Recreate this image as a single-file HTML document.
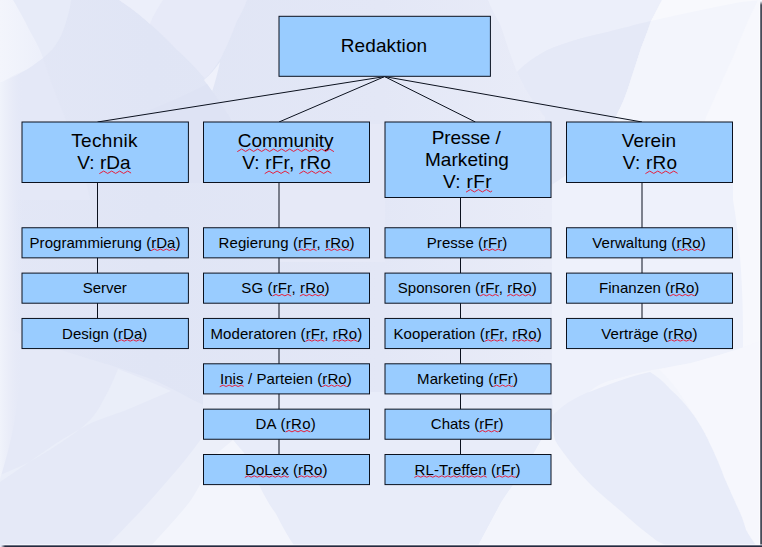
<!DOCTYPE html>
<html><head><meta charset="utf-8"><title>Organigramm</title>
<style>
html,body{margin:0;padding:0;}
body{width:762px;height:547px;overflow:hidden;position:relative;background:#e7ebf8;font-family:"Liberation Sans",sans-serif;color:#000;}
svg{position:absolute;left:0;top:0;width:762px;height:547px;}
.t{position:absolute;display:flex;flex-direction:column;justify-content:center;align-items:center;text-align:center;white-space:nowrap;}
.h{font-size:19px;line-height:22px;}
.r{font-size:15px;line-height:17px;}
u{text-decoration:none;}
#er{position:absolute;left:759px;top:0;width:3px;height:547px;background:linear-gradient(90deg,rgba(255,255,255,.5) 0,rgba(255,255,255,.5) 1px,#6c707c 1px,#6c707c 2px,#474b58 2px);-webkit-mask-image:linear-gradient(180deg,transparent 0,transparent 1px,#000 5px);mask-image:linear-gradient(180deg,transparent 0,transparent 1px,#000 5px);}
#eb{position:absolute;left:0;top:544px;width:762px;height:3px;background:linear-gradient(180deg,rgba(255,255,255,.5) 0,rgba(255,255,255,.5) 1px,#6a6f82 1px,#6a6f82 2px,#262b3e 2px);-webkit-mask-image:linear-gradient(90deg,transparent 0,transparent 1px,#000 5px);mask-image:linear-gradient(90deg,transparent 0,transparent 1px,#000 5px);}
</style></head><body>
<svg id="bg" viewBox="0 0 762 547"><defs>
<linearGradient id="gb" x1="0" y1="0" x2="762" y2="0" gradientUnits="userSpaceOnUse">
<stop offset="0" stop-color="#e3e7f6"/><stop offset=".2" stop-color="#e0e5f5"/><stop offset=".5" stop-color="#e3e7f6"/><stop offset=".72" stop-color="#e9ecf8"/><stop offset="1" stop-color="#eceff9"/>
</linearGradient>
<linearGradient id="gl" x1="0" y1="0" x2="45" y2="0" gradientUnits="userSpaceOnUse">
<stop offset="0" stop-color="#f3f5fc"/><stop offset="1" stop-color="#ecEFfa"/>
</linearGradient>
<linearGradient id="gs" x1="0" y1="0" x2="24" y2="0" gradientUnits="userSpaceOnUse"><stop offset="0" stop-color="#f0f3fb"/><stop offset=".5" stop-color="#e9ecf8" stop-opacity=".8"/><stop offset="1" stop-color="#e4e8f7" stop-opacity="0"/></linearGradient>
</defs>
<rect x="0" y="0" width="762" height="547" fill="url(#gb)"/>
<!-- left-of-continuation zone (slightly lighter) -->
<path d="M0,0 L13,0 C28,28 40,45 43,58 C50,80 58,100 66,120 C75,145 85,170 90,200 L0,200 Z" fill="#e4e8f7"/>
<!-- top-left band + leaf -->
<path d="M0,0 L71,0 C70,9 68,16 66,22 C64,29 62,34 59,39.5 C55,47 50,53 43,58 C35,64 28,69 22,72 C14,77 7,80 0,83 Z" fill="#e7ebf8"/>
<path d="M0,0 L13,0 C20,12 25,21 28.5,28.5 C35,40 40,49 43,58 C35,64 28,69 22,72 C14,77 7,80 0,83 Z" fill="url(#gl)"/>
<!-- top band between curve A and B -->
<path d="M119,0 L247,0 C244,8 241,14 237,21 C232,34 227,46 221,58 C216,66 211,73 205,79 C197,69 188,60 177,50 C168,41 160,32 150,24 C140,15 130,7 119,0 Z" fill="#e7eaf8"/>
<path d="M119,0 L163,0 C158,8 153,15 150,24 C140,15 130,7 119,0 Z" fill="#ecEFfa"/>
<path d="M220,62 C215,69 210,75 204,80 C207,84 210,88 212,92 C215,82 218,72 220,62 Z" fill="#eff1fb"/>
<path d="M207,84 C195,90 175,100 150,110 C140,114 130,117 125,118 L125,124 L189,124 L189,183 L203,183 L203,124 L234,124 L230,117.5 C222,105 215,95 207,84 Z" fill="#dee3f4"/>
<path d="M230,117.5 C240,131 250,144 262,160 C266,166 272,175 276,185 C278,196 279,212 279,229 L279,262 L385,262 L385,124 L236,124 Z" fill="#e6e9f7"/>
<!-- below crossing: lighter band left of lower B -->
<!-- upper zone right of Redaktion, above gentle curve -->
<path d="M488,0 L662,0 L651,21 C637,24 620,29 603,33 C588,36 570,41 552,48 C540,53 527,62 517,72 C510,55 505,38 500,24 C496,17 492,10 488,0 Z" fill="#ecEFfa"/>
<!-- zone below gentle curve -->
<path d="M517,72 C527,62 540,53 552,48 C570,41 588,36 603,33 C620,29 637,24 651,21 C648,30 644,40 641,48 C637,60 634,70 631,79 C626,95 622,105 617,114 C612,125 606,135 598,143 C584,160 570,174 553,184 L545,184 L545,117 C537,107 530,97 524,86 Z" fill="#e5e9f7"/>
<!-- right light zone -->
<path d="M662,0 L651,21 C648,30 644,40 641,48 C637,60 634,70 631,79 C626,95 622,105 617,114 C612,125 606,135 598,143 C584,160 570,174 553,184 C552,190 552,210 552,230 L552,400 C552,405 552,410 553,416 C560,408 570,402 580,398 C590,392 600,386 608,381 C625,376 640,372 654,369.5 C668,367 680,365 691,363 C705,359 720,355 732,351 C745,347 755,343 762,340 L762,0 Z" fill="#eef1fb"/>
<!-- right bright (right of S-curve, top) -->
<path d="M662,0 L651,21 C648,30 644,40 641,48 C637,60 634,70 631,79 C626,95 622,105 617,114 L617,122 L762,122 L762,0 Z" fill="#f3f5fc"/>
<path d="M662,0 L651,21 C680,14 710,8 741,2 L762,0 Z" fill="#f8f9fd"/>
<!-- far right streak -->
<path d="M762,0 L758,0 C754,8 751,14 748,21 C743,33 738,44 734,55 C729,66 724,76 720,86 C715,97 710,108 706,117 C704,125 703,130 703,135 L733,135 L733,200 C740,240 743,290 743,330 L743,547 L762,547 Z" fill="#f7f8fd"/>
<!-- bottom-right bright zone (below big curve) -->
<path d="M762,340 C755,343 745,347 732,351 C720,355 705,359 691,363 C680,365 668,367 654,369.5 C640,372 625,376 608,381 C597,385 587,392 577,404 C567,410 560,414 553,420 C545,432 538,445 532,456 C522,472 511,487 501,502 C493,517 485,532 477,547 L762,547 Z" fill="#f3f5fc"/>
<path d="M659,369.5 C670,380 680,392 692,413 C700,424 705,433 709,442 C715,454 720,466 724,477 C730,491 736,504 741,515 C743,520 745,526 746,530 C749,535 752,540 755,544 L757,547 L762,547 L762,340 C755,343 745,347 732,351 C720,355 705,359 691,363 C680,365 670,367 659,369.5 Z" fill="#f6f7fd"/>
<!-- dark leaf -->
<path d="M553,416 C558,410 563,406 569,402 C577,397 585,393 592,391 C610,384 630,376 650,372 C657,376 664,382 671,390 C680,398 686,405 692,413 C700,424 705,433 709,442 C715,454 720,466 724,477 C730,491 736,504 741,515 C743,520 745,526 746,530 C749,535 752,540 755,544 L757,547 L670,547 C665,545 661,543 657,541 C645,532 633,522 622,512 C611,503 601,494 592,486 C584,478 576,469 569,460 C563,452 558,446 555,440 C553,432 552,424 553,416 Z" fill="#e8ecf9"/>
<!-- lower-left zone below first curve -->
<path d="M0,325 C20,333 40,342 61,350 C80,356 95,361 110,365 C125,370 140,375 154,380 C168,387 181,393 193,400 L210,408 L300,470 L300,547 L0,547 Z" fill="#e5e9f7"/>
<!-- swoosh wedge -->
<path d="M118,369 C137,376 155,384 171,391 C155,398 140,404 124,411 C112,415 101,419 91,423 C78,430 66,437 55,444 C36,457 18,470 0,482 L0,475 C10,471 19,467 27.5,463 C43,454 58,445 72,435 C79,430 85,425 91,419 C97,412 101,405 105,397 C110,388 114,379 118,369 Z" fill="#eaeef9"/>
<!-- far-left strip -->
<path d="M0,83 L24,70 L24,345 C22,375 18,400 14,424 C10,445 5,463 0,479 Z" fill="url(#gs)"/>
<!-- region right of sail / bottom middle -->
<path d="M203,392 L203,547 L477,547 C485,532 493,517 501,502 C511,487 522,472 532,456 C538,445 545,432 553,420 L552,392 Z" fill="#e8ecf9"/>
<!-- bottom sail: outer light zone + inner bright sail -->
<path d="M106,547 C118,535 129,523 138,514 C149,502 159,491 169,479 C176,471 183,463 189,455 C194,449 199,442 203,436 C210,428 216,420 222,412 L233,440 C237,445 241,449 244,453 C249,463 254,476 260,487 C265,497 270,506 276,514 C282,526 288,537 295,547 Z" fill="#eceff9"/>
<path d="M150,547 C165,530 180,515 191,500 C196,492 200,485 203,479 C208,470 212,462 216.5,454 C222,449 228,444 233,440 C237,445 241,449 244,453 C249,463 254,476 260,487 C265,497 270,506 276,514 C282,526 288,537 295,547 Z" fill="#f3f5fc"/>
</svg>
<svg id="ln" viewBox="0 0 762 547" fill="#99ccff" stroke="#0b111e" stroke-width="1">
<line x1="384.6" y1="76.6" x2="97.5" y2="122.0"/>
<line x1="97.5" y1="182.5" x2="97.5" y2="318.45"/>
<line x1="384.6" y1="76.6" x2="279.0" y2="122.0"/>
<line x1="279.0" y1="182.5" x2="279.0" y2="454.50"/>
<line x1="384.6" y1="76.6" x2="475.4" y2="122.0"/>
<line x1="460.5" y1="197.5" x2="460.5" y2="454.50"/>
<line x1="384.6" y1="76.6" x2="642.0" y2="122.0"/>
<line x1="642.0" y1="182.5" x2="642.0" y2="318.45"/>
<rect x="279.00" y="16.30" width="211.40" height="60.00"/>
<rect x="22.00" y="122.00" width="166.40" height="60.50"/>
<rect x="22.00" y="227.75" width="166.40" height="30.10"/>
<rect x="22.00" y="273.10" width="166.40" height="30.10"/>
<rect x="22.00" y="318.45" width="166.40" height="30.10"/>
<rect x="203.50" y="122.00" width="166.00" height="60.50"/>
<rect x="203.50" y="227.75" width="166.00" height="30.10"/>
<rect x="203.50" y="273.10" width="166.00" height="30.10"/>
<rect x="203.50" y="318.45" width="166.00" height="30.10"/>
<rect x="203.50" y="363.80" width="166.00" height="30.10"/>
<rect x="203.50" y="409.15" width="166.00" height="30.10"/>
<rect x="203.50" y="454.50" width="166.00" height="30.10"/>
<rect x="385.00" y="122.00" width="166.00" height="75.50"/>
<rect x="385.00" y="227.75" width="166.00" height="30.10"/>
<rect x="385.00" y="273.10" width="166.00" height="30.10"/>
<rect x="385.00" y="318.45" width="166.00" height="30.10"/>
<rect x="385.00" y="363.80" width="166.00" height="30.10"/>
<rect x="385.00" y="409.15" width="166.00" height="30.10"/>
<rect x="385.00" y="454.50" width="166.00" height="30.10"/>
<rect x="566.50" y="122.00" width="166.00" height="60.50"/>
<rect x="566.50" y="227.75" width="166.00" height="30.10"/>
<rect x="566.50" y="273.10" width="166.00" height="30.10"/>
<rect x="566.50" y="318.45" width="166.00" height="30.10"/>
</svg>
<div class="t h" style="left:279.00px;top:16.30px;width:211.40px;height:60.00px"><div style="letter-spacing:0.104px;position:relative;left:-0.66px">Redaktion</div></div>
<div class="t h" style="left:22.00px;top:122.00px;width:166.40px;height:60.50px"><div style="letter-spacing:0.32px;position:relative;left:-0.61px">Technik</div><div style="letter-spacing:0.029px;position:relative;left:-1.29px">V: <u>rDa</u></div></div>
<div class="t r" style="left:22.00px;top:227.45px;width:166.40px;height:30.10px"><div style="letter-spacing:0.048px;position:relative;left:-0.16px">Programmierung (<u>rDa</u>)</div></div>
<div class="t r" style="left:22.00px;top:272.80px;width:166.40px;height:30.10px"><div style="letter-spacing:-0.064px;position:relative;left:-0.48px">Server</div></div>
<div class="t r" style="left:22.00px;top:318.15px;width:166.40px;height:30.10px"><div style="letter-spacing:0.013px;position:relative;left:-0.52px">Design (<u>rDa</u>)</div></div>
<div class="t h" style="left:203.50px;top:122.00px;width:166.00px;height:60.50px"><div style="letter-spacing:-0.037px;position:relative;left:-0.8px"><u>Community</u></div><div style="letter-spacing:0.167px;position:relative;left:0.14px">V: <u>rFr</u>, <u>rRo</u></div></div>
<div class="t r" style="left:203.50px;top:227.45px;width:166.00px;height:30.10px"><div style="letter-spacing:0.095px;position:relative;left:0.15px">Regierung (<u>rFr</u>, <u>rRo</u>)</div></div>
<div class="t r" style="left:203.50px;top:272.80px;width:166.00px;height:30.10px"><div style="letter-spacing:0.135px;position:relative;left:-0.98px">SG (<u>rFr</u>, <u>rRo</u>)</div></div>
<div class="t r" style="left:203.50px;top:318.15px;width:166.00px;height:30.10px"><div style="letter-spacing:0.074px;position:relative;left:-0.14px">Moderatoren (<u>rFr</u>, <u>rRo</u>)</div></div>
<div class="t r" style="left:203.50px;top:363.50px;width:166.00px;height:30.10px"><div style="letter-spacing:0.088px;position:relative;left:-0.61px"><u>Inis</u> / Parteien (<u>rRo</u>)</div></div>
<div class="t r" style="left:203.50px;top:408.85px;width:166.00px;height:30.10px"><div style="letter-spacing:0.271px;position:relative;left:-0.74px">DA (<u>rRo</u>)</div></div>
<div class="t r" style="left:203.50px;top:454.20px;width:166.00px;height:30.10px"><div style="letter-spacing:0.071px;position:relative;left:-0.26px"><u>DoLex</u> (<u>rRo</u>)</div></div>
<div class="t h" style="left:385.00px;top:122.00px;width:166.00px;height:75.50px"><div style="letter-spacing:-0.074px;position:relative;left:-1.78px">Presse /</div><div style="letter-spacing:0.066px;position:relative;left:-1.1px">Marketing</div><div style="letter-spacing:0.365px;position:relative;left:-0.56px">V: <u>rFr</u></div></div>
<div class="t r" style="left:385.00px;top:227.45px;width:166.00px;height:30.10px"><div style="letter-spacing:0.041px;position:relative;left:-0.91px">Presse (<u>rFr</u>)</div></div>
<div class="t r" style="left:385.00px;top:272.80px;width:166.00px;height:30.10px"><div style="letter-spacing:0.077px;position:relative;left:-0.82px">Sponsoren (<u>rFr</u>, <u>rRo</u>)</div></div>
<div class="t r" style="left:385.00px;top:318.15px;width:166.00px;height:30.10px"><div style="letter-spacing:0.115px;position:relative;left:-0.39px">Kooperation (<u>rFr</u>, <u>rRo</u>)</div></div>
<div class="t r" style="left:385.00px;top:363.50px;width:166.00px;height:30.10px"><div style="letter-spacing:0.123px;position:relative;left:-0.46px">Marketing (<u>rFr</u>)</div></div>
<div class="t r" style="left:385.00px;top:408.85px;width:166.00px;height:30.10px"><div style="letter-spacing:0.017px;position:relative;left:-0.87px">Chats (<u>rFr</u>)</div></div>
<div class="t r" style="left:385.00px;top:454.20px;width:166.00px;height:30.10px"><div style="letter-spacing:0.123px;position:relative;left:-0.35px"><u>RL-Treffen</u> (<u>rFr</u>)</div></div>
<div class="t h" style="left:566.50px;top:122.00px;width:166.00px;height:60.50px"><div style="letter-spacing:0.053px;position:relative;left:-0.56px">Verein</div><div style="letter-spacing:0.234px;position:relative;left:0.53px">V: <u>rRo</u></div></div>
<div class="t r" style="left:566.50px;top:227.45px;width:166.00px;height:30.10px"><div style="letter-spacing:0.063px;position:relative;left:-0.48px">Verwaltung (<u>rRo</u>)</div></div>
<div class="t r" style="left:566.50px;top:272.80px;width:166.00px;height:30.10px"><div style="letter-spacing:0.012px;position:relative;left:-0.3px">Finanzen (<u>rRo</u>)</div></div>
<div class="t r" style="left:566.50px;top:318.15px;width:166.00px;height:30.10px"><div style="letter-spacing:0.094px;position:relative;left:-0.09px">Verträge (<u>rRo</u>)</div></div>
<svg id="sq" viewBox="0 0 762 547" fill="none" stroke="#e6203e" stroke-linejoin="round" stroke-linecap="round"><!--SQ--><path d="M99.67,173.44 L103.67,171.04 L107.67,173.44 L111.67,171.04 L115.67,173.44 L119.67,171.04 L123.67,173.44 L127.67,171.04 L130.75,172.89" stroke-width="1.0"/><path d="M151.37,250.46 L154.37,249.06 L157.37,250.46 L160.37,249.06 L163.37,250.46 L166.37,249.06 L169.37,250.46 L172.37,249.06 L175.25,250.40" stroke-width="1.0"/><path d="M118.25,341.16 L121.25,339.76 L124.25,341.16 L127.25,339.76 L130.25,341.16 L133.25,339.76 L136.25,341.16 L139.25,339.76 L142.05,341.07" stroke-width="1.0"/><path d="M237.63,151.44 L241.63,149.04 L245.63,151.44 L249.63,149.04 L253.63,151.44 L257.63,149.04 L261.63,151.44 L265.63,149.04 L269.63,151.44 L273.63,149.04 L277.63,151.44 L281.63,149.04 L285.63,151.44 L289.63,149.04 L293.63,151.44 L297.63,149.04 L301.63,151.44 L305.63,149.04 L309.63,151.44 L313.63,149.04 L317.63,151.44 L321.63,149.04 L325.63,151.44 L329.63,149.04 L333.63,151.44" stroke-width="1.0"/><path d="M265.07,173.44 L269.07,171.04 L273.07,173.44 L277.07,171.04 L281.07,173.44 L285.07,171.04 L289.02,173.42" stroke-width="1.0"/><path d="M299.69,173.44 L303.69,171.04 L307.69,173.44 L311.69,171.04 L315.69,173.44 L319.69,171.04 L323.69,173.44 L327.69,171.04 L331.05,173.06" stroke-width="1.0"/><path d="M298.18,250.46 L301.18,249.06 L304.18,250.46 L307.18,249.06 L310.18,250.46 L313.18,249.06 L316.18,250.46" stroke-width="1.0"/><path d="M325.34,250.46 L328.34,249.06 L331.34,250.46 L334.34,249.06 L337.34,250.46 L340.34,249.06 L343.34,250.46 L346.34,249.06 L349.31,250.45" stroke-width="1.0"/><path d="M272.89,295.82 L275.89,294.42 L278.89,295.82 L281.89,294.42 L284.89,295.82 L287.89,294.42 L290.89,295.82" stroke-width="1.0"/><path d="M300.23,295.82 L303.23,294.42 L306.23,295.82 L309.23,294.42 L312.23,295.82 L315.23,294.42 L318.23,295.82 L321.23,294.42 L324.23,295.82" stroke-width="1.0"/><path d="M305.90,341.16 L308.90,339.76 L311.90,341.16 L314.90,339.76 L317.90,341.16 L320.90,339.76 L323.90,341.16" stroke-width="1.0"/><path d="M332.95,341.16 L335.95,339.76 L338.95,341.16 L341.95,339.76 L344.95,341.16 L347.95,339.76 L350.95,341.16 L353.95,339.76 L356.88,341.13" stroke-width="1.0"/><path d="M220.12,386.52 L223.12,385.12 L226.12,386.52 L229.12,385.12 L232.12,386.52 L235.12,385.12 L238.12,386.52 L241.12,385.12 L243.34,386.16" stroke-width="1.0"/><path d="M322.51,386.52 L325.51,385.12 L328.51,386.52 L331.51,385.12 L334.51,386.52 L337.51,385.12 L340.51,386.52 L343.51,385.12 L346.46,386.50" stroke-width="1.0"/><path d="M285.97,431.87 L288.97,430.47 L291.97,431.87 L294.97,430.47 L297.97,431.87 L300.97,430.47 L303.97,431.87 L306.97,430.47 L309.97,431.87" stroke-width="1.0"/><path d="M245.20,477.21 L248.20,475.81 L251.20,477.21 L254.20,475.81 L257.20,477.21 L260.20,475.81 L263.20,477.21 L266.20,475.81 L269.20,477.21 L272.20,475.81 L275.20,477.21 L278.20,475.81 L281.20,477.21 L284.20,475.81 L287.20,477.21 L288.45,476.63" stroke-width="1.0"/><path d="M298.23,477.21 L301.23,475.81 L304.23,477.21 L307.23,475.81 L310.23,477.21 L313.23,475.81 L316.23,477.21 L319.23,475.81 L322.15,477.17" stroke-width="1.0"/><path d="M466.38,191.94 L470.38,189.54 L474.38,191.94 L478.38,189.54 L482.38,191.94 L486.38,189.54 L490.38,191.94 L491.77,191.11" stroke-width="1.0"/><path d="M483.22,250.46 L486.22,249.06 L489.22,250.46 L492.22,249.06 L495.22,250.46 L498.22,249.06 L501.22,250.46 L502.06,250.07" stroke-width="1.0"/><path d="M480.40,295.82 L483.40,294.42 L486.40,295.82 L489.40,294.42 L492.40,295.82 L495.40,294.42 L498.40,295.82" stroke-width="1.0"/><path d="M507.47,295.82 L510.47,294.42 L513.47,295.82 L516.47,294.42 L519.47,295.82 L522.47,294.42 L525.47,295.82 L528.47,294.42 L531.39,295.79" stroke-width="1.0"/><path d="M485.15,341.16 L488.15,339.76 L491.15,341.16 L494.15,339.76 L497.15,341.16 L500.15,339.76 L503.15,341.16" stroke-width="1.0"/><path d="M512.40,341.16 L515.40,339.76 L518.40,341.16 L521.40,339.76 L524.40,341.16 L527.40,339.76 L530.40,341.16 L533.40,339.76 L536.40,341.16" stroke-width="1.0"/><path d="M493.61,386.52 L496.61,385.12 L499.61,386.52 L502.61,385.12 L505.61,386.52 L508.61,385.12 L511.61,386.52 L512.61,386.05" stroke-width="1.0"/><path d="M479.45,431.87 L482.45,430.47 L485.45,431.87 L488.45,430.47 L491.45,431.87 L494.45,430.47 L497.45,431.87 L498.25,431.49" stroke-width="1.0"/><path d="M414.76,477.21 L417.76,475.81 L420.76,477.21 L423.76,475.81 L426.76,477.21 L429.76,475.81 L432.76,477.21 L435.76,475.81 L438.76,477.21 L441.76,475.81 L444.76,477.21 L447.76,475.81 L450.76,477.21 L453.76,475.81 L456.76,477.21 L459.76,475.81 L462.76,477.21 L465.76,475.81 L468.76,477.21 L471.76,475.81 L474.76,477.21 L477.76,475.81 L480.76,477.21 L483.76,475.81 L486.33,477.01" stroke-width="1.0"/><path d="M496.28,477.21 L499.28,475.81 L502.28,477.21 L505.28,475.81 L508.28,477.21 L511.28,475.81 L514.28,477.21 L515.29,476.74" stroke-width="1.0"/><path d="M645.77,173.44 L649.77,171.04 L653.77,173.44 L657.77,171.04 L661.77,173.44 L665.77,171.04 L669.77,173.44 L673.77,171.04 L677.26,173.14" stroke-width="1.0"/><path d="M676.59,250.46 L679.59,249.06 L682.59,250.46 L685.59,249.06 L688.59,250.46 L691.59,249.06 L694.59,250.46 L697.59,249.06 L700.49,250.41" stroke-width="1.0"/><path d="M670.28,295.82 L673.28,294.42 L676.28,295.82 L679.28,294.42 L682.28,295.82 L685.28,294.42 L688.28,295.82 L691.28,294.42 L694.08,295.73" stroke-width="1.0"/><path d="M668.25,341.16 L671.25,339.76 L674.25,341.16 L677.25,339.76 L680.25,341.16 L683.25,339.76 L686.25,341.16 L689.25,339.76 L692.21,341.14" stroke-width="1.0"/></svg>
<div id="er"></div><div id="eb"></div>
</body></html>
